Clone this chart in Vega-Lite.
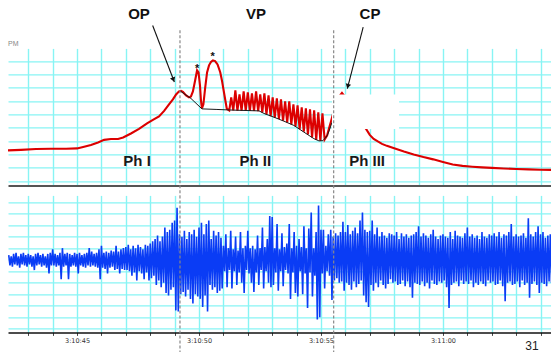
{
  "$schema": "https://vega.github.io/schema/vega-lite/v6.json",
  "background": "white",
  "padding": {"left": 3, "top": 6.4, "right": 0, "bottom": 0},
  "bounds": "flush",
  "spacing": 10,
  "config": {
    "view": {"stroke": null},
    "font": "Liberation Sans",
    "axis": {"gridColor": "#88f4f4", "gridWidth": 1.4, "gridOpacity": 1, "title": null}
  },
  "datasets": {
    "pressure": [
      {"t":42.17,"p":23.0},{"t":42.70,"p":23.4},{"t":43.32,"p":24.1},{"t":43.93,"p":24.3},{"t":44.55,"p":24.3},{"t":45.00,"p":24.5},{"t":45.25,"p":25.6},{"t":45.57,"p":27.1},{"t":45.86,"p":29.0},{"t":46.11,"p":30.9},{"t":46.39,"p":31.5},{"t":46.68,"p":31.6},{"t":46.89,"p":32.7},{"t":47.21,"p":35.7},{"t":47.54,"p":39.1},{"t":47.87,"p":43.2},{"t":48.11,"p":45.8},{"t":48.36,"p":48.5},{"t":48.57,"p":52.6},{"t":48.77,"p":57.5},{"t":48.93,"p":61.2},{"t":49.06,"p":64.9},{"t":49.18,"p":67.2},{"t":49.26,"p":67.6},{"t":49.34,"p":66.8},{"t":49.47,"p":64.2},{"t":49.59,"p":62.7},{"t":49.67,"p":63.4},{"t":49.75,"p":67.2},{"t":49.84,"p":75.4},{"t":49.92,"p":82.9},{"t":49.98,"p":81.4},{"t":50.04,"p":71.7},{"t":50.08,"p":60.4},{"t":50.12,"p":54.5},{"t":50.18,"p":57.5},{"t":50.25,"p":69.4},{"t":50.33,"p":81.4},{"t":50.41,"p":86.7},{"t":50.49,"p":89.3},{"t":50.57,"p":90.4},{"t":50.66,"p":89.9},{"t":50.76,"p":87.4},{"t":50.87,"p":81.6},{"t":50.94,"p":75.4},{"t":51.01,"p":67.9},{"t":51.08,"p":60.4},{"t":51.14,"p":54.2},{"t":51.24,"p":53.0},
      {"t":51.32,"p":62.7},{"t":51.405,"p":53.0},{"t":51.49,"p":67.9},{"t":51.575,"p":52.8},{"t":51.66,"p":64.9},{"t":51.745,"p":52.7},{"t":51.83,"p":67.2},{"t":51.915,"p":52.7},{"t":52.00,"p":66.4},{"t":52.085,"p":52.6},{"t":52.17,"p":65.7},{"t":52.255,"p":52.6},{"t":52.34,"p":67.2},{"t":52.425,"p":52.5},{"t":52.51,"p":64.9},{"t":52.595,"p":51.5},{"t":52.68,"p":65.7},{"t":52.765,"p":50.0},{"t":52.85,"p":64.2},{"t":52.935,"p":48.7},{"t":53.02,"p":62.7},{"t":53.105,"p":47.6},{"t":53.19,"p":61.9},{"t":53.275,"p":46.6},{"t":53.36,"p":61.2},{"t":53.445,"p":45.3},{"t":53.53,"p":59.7},{"t":53.615,"p":44.0},{"t":53.70,"p":59.7},{"t":53.785,"p":42.5},{"t":53.87,"p":57.5},{"t":53.955,"p":41.0},{"t":54.04,"p":56.7},{"t":54.125,"p":39.0},{"t":54.21,"p":55.2},{"t":54.295,"p":37.0},{"t":54.38,"p":54.5},{"t":54.465,"p":35.0},{"t":54.55,"p":53.7},{"t":54.635,"p":32.7},{"t":54.72,"p":53.0},{"t":54.805,"p":30.9},{"t":54.89,"p":51.5},{"t":54.975,"p":30.1},{"t":55.06,"p":50.7},{"t":55.15,"p":31.2},{"t":55.25,"p":34.2},{"t":55.33,"p":39.5},{"t":55.41,"p":44.7},{"t":55.53,"p":53.0},{"t":55.65,"p":60.4},{"t":55.78,"p":64.2},{"t":55.86,"p":66.0},{"t":55.94,"p":64.2},{"t":56.10,"p":59.7},{"t":56.30,"p":54.5},{"t":56.50,"p":48.5},{"t":56.70,"p":42.5},{"t":56.86,"p":38.7},{"t":57.00,"p":34.6},{"t":57.16,"p":31.6},{"t":57.33,"p":29.7},{"t":57.50,"p":27.9},{"t":57.70,"p":26.4},{"t":58.00,"p":24.6},{"t":58.40,"p":22.2},{"t":58.80,"p":20.0},{"t":59.20,"p":18.0},{"t":59.60,"p":16.3},{"t":60.00,"p":14.4},{"t":60.40,"p":12.5},{"t":60.80,"p":11.4},{"t":61.20,"p":10.8},{"t":61.60,"p":10.3},{"t":62.00,"p":9.9},{"t":62.50,"p":9.5},{"t":63.00,"p":9.1},{"t":63.50,"p":8.8},{"t":64.00,"p":8.5},{"t":64.47,"p":8.4}
    ],
    "baseline": [
      {"t":49.22,"p":67.6},{"t":49.67,"p":61.9},{"t":50.12,"p":54.1},{"t":50.70,"p":53.7},{"t":51.23,"p":53.3},{"t":51.72,"p":53.0},{"t":52.46,"p":52.6},{"t":52.66,"p":50.7},{"t":53.07,"p":47.9},{"t":53.48,"p":44.9},{"t":53.89,"p":41.7},{"t":54.30,"p":36.7},{"t":54.71,"p":31.8},{"t":54.92,"p":30.1},{"t":55.08,"p":30.3},{"t":55.25,"p":33.9},{"t":55.37,"p":39.5},{"t":55.45,"p":44.0}
    ],
    "mask": [{"t":55.45,"t2":58.2,"p":64.9,"p2":39.1}],
    "dashTop": [{"t":49.22,"p":112.9,"p2":-10.7},{"t":55.52,"p":112.9,"p2":-10.7}],
    "arrows": [{"t":48.10,"p":116.6,"t2":48.99,"p2":74.2},{"t":56.73,"p":115.4,"t2":56.08,"p2":69.2}],
    "headOP": [{"t":48.95,"p":76.0}],
    "headCP": [{"t":56.10,"p":71.0}],
    "phases": [{"t":47.54,"p":121.6,"label":"OP"},{"t":52.34,"p":121.6,"label":"VP"},{"t":57.01,"p":121.6,"label":"CP"}],
    "phLabels": [{"t":47.46,"p":11.2,"label":"Ph I"},{"t":52.31,"p":11.2,"label":"Ph II"},{"t":56.89,"p":11.0,"label":"Ph III"}],
    "stars": [{"t":49.92,"p":81.8,"label":"*"},{"t":50.56,"p":90.4,"label":"*"}],
    "unit": [{"t":42.17,"p":100.9,"label":"PM"}],
    "dashBottom": [{"t":49.22,"e":55.8,"e2":-80.5},{"t":55.52,"e":55.8,"e2":-80.5}],
    "page": [{"t":63.65,"e":-78.7,"label":"31"}],
    "emg": [
      {"t":42.2,"e":4},{"t":42.25,"e":-5},{"t":42.3,"e":3},{"t":42.35,"e":-6},{"t":42.4,"e":5},{"t":42.45,"e":-4},{"t":42.5,"e":6},{"t":42.55,"e":-5},{"t":42.6,"e":3},{"t":42.65,"e":-7},{"t":42.7,"e":5},{"t":42.75,"e":-4},{"t":42.8,"e":6},{"t":42.85,"e":-5},{"t":42.9,"e":4},{"t":42.95,"e":-6},
      {"t":43.0,"e":5},{"t":43.05,"e":-4},{"t":43.1,"e":4},{"t":43.15,"e":-6},{"t":43.2,"e":3},{"t":43.25,"e":-9},{"t":43.3,"e":5},{"t":43.35,"e":-5},{"t":43.4,"e":6},{"t":43.45,"e":-4},{"t":43.5,"e":4},{"t":43.55,"e":-6},{"t":43.6,"e":5},{"t":43.65,"e":-5},{"t":43.7,"e":3},{"t":43.75,"e":-7},{"t":43.8,"e":5},{"t":43.85,"e":-12},{"t":43.9,"e":6},{"t":43.95,"e":-5},
      {"t":44.0,"e":9},{"t":44.05,"e":-5},{"t":44.1,"e":5},{"t":44.15,"e":-6},{"t":44.2,"e":4},{"t":44.25,"e":-5},{"t":44.3,"e":6},{"t":44.35,"e":-17},{"t":44.4,"e":10},{"t":44.45,"e":-6},{"t":44.5,"e":5},{"t":44.55,"e":-5},{"t":44.6,"e":6},{"t":44.65,"e":-17},{"t":44.7,"e":5},{"t":44.75,"e":-6},{"t":44.8,"e":4},{"t":44.85,"e":-5},{"t":44.9,"e":6},{"t":44.95,"e":-6},
      {"t":45.0,"e":5},{"t":45.05,"e":-12},{"t":45.1,"e":6},{"t":45.15,"e":-5},{"t":45.2,"e":4},{"t":45.25,"e":-6},{"t":45.3,"e":5},{"t":45.35,"e":-7},{"t":45.4,"e":6},{"t":45.45,"e":-5},{"t":45.5,"e":10},{"t":45.55,"e":-6},{"t":45.6,"e":7},{"t":45.65,"e":-5},{"t":45.7,"e":5},{"t":45.75,"e":-6},{"t":45.8,"e":6},{"t":45.85,"e":-7},{"t":45.9,"e":9},{"t":45.95,"e":-17},
      {"t":46.0,"e":12},{"t":46.05,"e":-7},{"t":46.1,"e":6},{"t":46.15,"e":-8},{"t":46.2,"e":7},{"t":46.25,"e":-12},{"t":46.3,"e":6},{"t":46.35,"e":-7},{"t":46.4,"e":8},{"t":46.45,"e":-6},{"t":46.5,"e":7},{"t":46.55,"e":-9},{"t":46.6,"e":12},{"t":46.65,"e":-8},{"t":46.7,"e":7},{"t":46.75,"e":-12},{"t":46.8,"e":9},{"t":46.85,"e":-8},{"t":46.9,"e":10},{"t":46.95,"e":-9},
      {"t":47.0,"e":11},{"t":47.05,"e":-9},{"t":47.1,"e":13},{"t":47.15,"e":-10},{"t":47.2,"e":9},{"t":47.25,"e":-14},{"t":47.3,"e":12},{"t":47.35,"e":-11},{"t":47.4,"e":10},{"t":47.45,"e":-18},{"t":47.5,"e":13},{"t":47.55,"e":-10},{"t":47.6,"e":11},{"t":47.65,"e":-12},{"t":47.7,"e":9},{"t":47.75,"e":-17},{"t":47.8,"e":13},{"t":47.85,"e":-11},{"t":47.9,"e":12},{"t":47.95,"e":-18},
      {"t":48.0,"e":14},{"t":48.05,"e":-16},{"t":48.1,"e":16},{"t":48.15,"e":-14},{"t":48.2,"e":18},{"t":48.25,"e":-22},{"t":48.3,"e":21},{"t":48.35,"e":-18},{"t":48.4,"e":16},{"t":48.45,"e":-24},{"t":48.5,"e":20},{"t":48.55,"e":-20},{"t":48.6,"e":28},{"t":48.65,"e":-29},{"t":48.7,"e":24},{"t":48.75,"e":-31},{"t":48.8,"e":26},{"t":48.85,"e":-26},{"t":48.9,"e":32},{"t":48.95,"e":-24},
      {"t":49.0,"e":34},{"t":49.05,"e":-44},{"t":49.1,"e":45},{"t":49.15,"e":-45},{"t":49.2,"e":22},{"t":49.25,"e":-30},{"t":49.3,"e":20},{"t":49.35,"e":-28},{"t":49.4,"e":25},{"t":49.45,"e":-32},{"t":49.5,"e":18},{"t":49.55,"e":-26},{"t":49.6,"e":24},{"t":49.65,"e":-34},{"t":49.7,"e":22},{"t":49.75,"e":-38},{"t":49.8,"e":26},{"t":49.85,"e":-30},{"t":49.9,"e":20},{"t":49.95,"e":-32},
      {"t":50.0,"e":28},{"t":50.05,"e":-34},{"t":50.1,"e":32},{"t":50.15,"e":-41},{"t":50.2,"e":22},{"t":50.25,"e":-31},{"t":50.3,"e":31},{"t":50.35,"e":-45},{"t":50.4,"e":34},{"t":50.45,"e":-22},{"t":50.5,"e":18},{"t":50.55,"e":-26},{"t":50.6,"e":25},{"t":50.65,"e":-24},{"t":50.7,"e":21},{"t":50.75,"e":-29},{"t":50.8,"e":24},{"t":50.85,"e":-27},{"t":50.9,"e":19},{"t":50.95,"e":-25},
      {"t":51.0,"e":12},{"t":51.05,"e":-10},{"t":51.1,"e":22},{"t":51.15,"e":-24},{"t":51.2,"e":10},{"t":51.25,"e":-9},{"t":51.3,"e":25},{"t":51.35,"e":-25},{"t":51.4,"e":9},{"t":51.45,"e":-10},{"t":51.5,"e":20},{"t":51.55,"e":-22},{"t":51.6,"e":8},{"t":51.65,"e":-11},{"t":51.7,"e":24},{"t":51.75,"e":-20},{"t":51.8,"e":10},{"t":51.85,"e":-29},{"t":51.9,"e":12},{"t":51.95,"e":-9},
      {"t":52.0,"e":25},{"t":52.05,"e":-12},{"t":52.1,"e":10},{"t":52.15,"e":-20},{"t":52.2,"e":12},{"t":52.25,"e":-28},{"t":52.3,"e":9},{"t":52.35,"e":-11},{"t":52.4,"e":21},{"t":52.45,"e":-22},{"t":52.5,"e":10},{"t":52.55,"e":-9},{"t":52.6,"e":28},{"t":52.65,"e":-25},{"t":52.7,"e":11},{"t":52.75,"e":-10},{"t":52.8,"e":18},{"t":52.85,"e":-20},{"t":52.9,"e":38},{"t":52.95,"e":-24},
      {"t":53.0,"e":37},{"t":53.05,"e":-22},{"t":53.1,"e":10},{"t":53.15,"e":-11},{"t":53.2,"e":31},{"t":53.25,"e":-27},{"t":53.3,"e":9},{"t":53.35,"e":-10},{"t":53.4,"e":23},{"t":53.45,"e":-23},{"t":53.5,"e":11},{"t":53.55,"e":-9},{"t":53.6,"e":14},{"t":53.65,"e":-12},{"t":53.7,"e":31},{"t":53.75,"e":-34},{"t":53.8,"e":10},{"t":53.85,"e":-11},{"t":53.9,"e":24},{"t":53.95,"e":-29},
      {"t":54.0,"e":12},{"t":54.05,"e":-32},{"t":54.1,"e":18},{"t":54.15,"e":-10},{"t":54.2,"e":11},{"t":54.25,"e":-30},{"t":54.3,"e":29},{"t":54.35,"e":-12},{"t":54.4,"e":10},{"t":54.45,"e":-42},{"t":54.5,"e":27},{"t":54.55,"e":-11},{"t":54.6,"e":41},{"t":54.65,"e":-32},{"t":54.7,"e":10},{"t":54.75,"e":-14},{"t":54.8,"e":24},{"t":54.85,"e":-52},{"t":54.9,"e":47},{"t":54.95,"e":-50},
      {"t":55.0,"e":26},{"t":55.05,"e":-12},{"t":55.1,"e":26},{"t":55.15,"e":-25},{"t":55.2,"e":12},{"t":55.25,"e":-10},{"t":55.3,"e":22},{"t":55.35,"e":-14},{"t":55.4,"e":26},{"t":55.45,"e":-35},{"t":55.5,"e":20},{"t":55.55,"e":-18},{"t":55.6,"e":23},{"t":55.65,"e":-16},{"t":55.7,"e":21},{"t":55.75,"e":-20},{"t":55.8,"e":24},{"t":55.85,"e":-19},{"t":55.9,"e":33},{"t":55.95,"e":-27},
      {"t":56.0,"e":24},{"t":56.05,"e":-20},{"t":56.1,"e":30},{"t":56.15,"e":-22},{"t":56.2,"e":22},{"t":56.25,"e":-26},{"t":56.3,"e":25},{"t":56.35,"e":-19},{"t":56.4,"e":28},{"t":56.45,"e":-24},{"t":56.5,"e":23},{"t":56.55,"e":-21},{"t":56.6,"e":34},{"t":56.65,"e":-18},{"t":56.7,"e":41},{"t":56.75,"e":-31},{"t":56.8,"e":26},{"t":56.85,"e":-37},{"t":56.9,"e":24},{"t":56.95,"e":-41},
      {"t":57.0,"e":25},{"t":57.05,"e":-22},{"t":57.1,"e":34},{"t":57.15,"e":-27},{"t":57.2,"e":22},{"t":57.25,"e":-20},{"t":57.3,"e":28},{"t":57.35,"e":-24},{"t":57.4,"e":20},{"t":57.45,"e":-18},{"t":57.5,"e":24},{"t":57.55,"e":-22},{"t":57.6,"e":21},{"t":57.65,"e":-25},{"t":57.7,"e":19},{"t":57.75,"e":-21},{"t":57.8,"e":23},{"t":57.85,"e":-17},{"t":57.9,"e":22},{"t":57.95,"e":-20},
      {"t":58.0,"e":21},{"t":58.05,"e":-19},{"t":58.1,"e":24},{"t":58.15,"e":-22},{"t":58.2,"e":18},{"t":58.25,"e":-21},{"t":58.3,"e":23},{"t":58.35,"e":-18},{"t":58.4,"e":20},{"t":58.45,"e":-23},{"t":58.5,"e":22},{"t":58.55,"e":-19},{"t":58.6,"e":19},{"t":58.65,"e":-24},{"t":58.7,"e":21},{"t":58.75,"e":-33},{"t":58.8,"e":22},{"t":58.85,"e":-20},{"t":58.9,"e":24},{"t":58.95,"e":-21},
      {"t":59.0,"e":29},{"t":59.05,"e":-22},{"t":59.1,"e":20},{"t":59.15,"e":-19},{"t":59.2,"e":23},{"t":59.25,"e":-23},{"t":59.3,"e":21},{"t":59.35,"e":-20},{"t":59.4,"e":19},{"t":59.45,"e":-25},{"t":59.5,"e":22},{"t":59.55,"e":-18},{"t":59.6,"e":26},{"t":59.65,"e":-21},{"t":59.7,"e":20},{"t":59.75,"e":-22},{"t":59.8,"e":18},{"t":59.85,"e":-19},{"t":59.9,"e":21},{"t":59.95,"e":-20},
      {"t":60.0,"e":22},{"t":60.05,"e":-18},{"t":60.1,"e":20},{"t":60.15,"e":-24},{"t":60.2,"e":19},{"t":60.25,"e":-42},{"t":60.3,"e":24},{"t":60.35,"e":-22},{"t":60.4,"e":18},{"t":60.45,"e":-20},{"t":60.5,"e":25},{"t":60.55,"e":-19},{"t":60.6,"e":21},{"t":60.65,"e":-23},{"t":60.7,"e":20},{"t":60.75,"e":-18},{"t":60.8,"e":19},{"t":60.85,"e":-21},{"t":60.9,"e":23},{"t":60.95,"e":-19},
      {"t":61.0,"e":28},{"t":61.05,"e":-21},{"t":61.1,"e":20},{"t":61.15,"e":-18},{"t":61.2,"e":22},{"t":61.25,"e":-24},{"t":61.3,"e":19},{"t":61.35,"e":-20},{"t":61.4,"e":21},{"t":61.45,"e":-22},{"t":61.5,"e":18},{"t":61.55,"e":-19},{"t":61.6,"e":24},{"t":61.65,"e":-21},{"t":61.7,"e":20},{"t":61.75,"e":-23},{"t":61.8,"e":19},{"t":61.85,"e":-18},{"t":61.9,"e":22},{"t":61.95,"e":-20},
      {"t":62.0,"e":21},{"t":62.05,"e":-19},{"t":62.1,"e":23},{"t":62.15,"e":-22},{"t":62.2,"e":20},{"t":62.25,"e":-21},{"t":62.3,"e":24},{"t":62.35,"e":-18},{"t":62.4,"e":19},{"t":62.45,"e":-23},{"t":62.5,"e":22},{"t":62.55,"e":-36},{"t":62.6,"e":21},{"t":62.65,"e":-20},{"t":62.7,"e":24},{"t":62.75,"e":-19},{"t":62.8,"e":31},{"t":62.85,"e":-22},{"t":62.9,"e":20},{"t":62.95,"e":-21},
      {"t":63.0,"e":22},{"t":63.05,"e":-19},{"t":63.1,"e":20},{"t":63.15,"e":-24},{"t":63.2,"e":21},{"t":63.25,"e":-18},{"t":63.3,"e":23},{"t":63.35,"e":-22},{"t":63.4,"e":19},{"t":63.45,"e":-20},{"t":63.5,"e":36},{"t":63.55,"e":-33},{"t":63.6,"e":22},{"t":63.65,"e":-21},{"t":63.7,"e":20},{"t":63.75,"e":-19},{"t":63.8,"e":24},{"t":63.85,"e":-22},{"t":63.9,"e":29},{"t":63.95,"e":-29},
      {"t":64.0,"e":22},{"t":64.05,"e":-20},{"t":64.1,"e":24},{"t":64.15,"e":-21},{"t":64.2,"e":19},{"t":64.25,"e":-23},{"t":64.3,"e":21},{"t":64.35,"e":-19},{"t":64.4,"e":22},{"t":64.45,"e":-20}
    ]
  },
  "vconcat": [
    {
      "width": 544,
      "height": 137,
      "encoding": {
        "x": {"field": "t", "type": "quantitative", "scale": {"domain": [42.17, 64.47], "nice": false, "zero": false},
              "axis": {"values": [43,44,45,46,47,48,49,50,51,52,53,54,55,56,57,58,59,60,61,62,63,64], "labels": false, "ticks": false, "domain": true, "domainColor": "#555555", "domainWidth": 2, "grid": true, "title": null}},
        "y": {"field": "p", "type": "quantitative", "scale": {"domain": [-3.2, 99.4], "nice": false, "zero": false},
              "axis": {"values": [0,10,20,30,40,50,60,70,80,90], "labels": false, "ticks": false, "domain": false, "grid": true, "title": null}}
      },
      "layer": [
        {"data": {"name": "pressure"}, "mark": {"type": "line", "color": "#dc0000", "strokeWidth": 2.1}},
        {"data": {"name": "baseline"}, "mark": {"type": "line", "color": "#1a1a1a", "strokeWidth": 1}},
        {"data": {"name": "mask"}, "mark": {"type": "rect", "fill": "white"}, "encoding": {"x2": {"field": "t2"}, "y2": {"field": "p2"}}},
        {"data": {"name": "dashTop"}, "mark": {"type": "rule", "color": "#888888", "strokeWidth": 1.2, "strokeDash": [3, 2]}, "encoding": {"y2": {"field": "p2"}}},
        {"data": {"name": "arrows"}, "mark": {"type": "rule", "color": "#111111", "strokeWidth": 1.1}, "encoding": {"x2": {"field": "t2"}, "y2": {"field": "p2"}}},
        {"data": {"name": "headOP"}, "mark": {"type": "point", "shape": "triangle-down", "filled": true, "color": "#111111", "size": 30, "angle": -21, "opacity": 1}},
        {"data": {"name": "headCP"}, "mark": {"type": "point", "shape": "triangle-down", "filled": true, "color": "#111111", "size": 30, "angle": 14.5, "opacity": 1}},
        {"data": {"name": "phases"}, "mark": {"type": "text", "fontSize": 15, "fontWeight": "bold", "color": "#111111", "align": "center", "baseline": "alphabetic"}, "encoding": {"text": {"field": "label"}}},
        {"data": {"name": "phLabels"}, "mark": {"type": "text", "fontSize": 15, "fontWeight": "bold", "color": "#1a1a1a", "align": "center", "baseline": "alphabetic"}, "encoding": {"text": {"field": "label"}}},
        {"data": {"name": "stars"}, "mark": {"type": "text", "fontSize": 11, "fontWeight": "bold", "color": "#111111", "align": "center", "baseline": "alphabetic"}, "encoding": {"text": {"field": "label"}}},
        {"data": {"name": "unit"}, "mark": {"type": "text", "fontSize": 7, "color": "#888888", "align": "left", "baseline": "alphabetic"}, "encoding": {"text": {"field": "label"}}}
      ]
    },
    {
      "width": 544,
      "height": 137,
      "encoding": {
        "x": {"field": "t", "type": "quantitative", "scale": {"domain": [42.17, 64.47], "nice": false, "zero": false},
              "axis": {"values": [43,44,45,46,47,48,49,50,51,52,53,54,55,56,57,58,59,60,61,62,63,64],
                       "labelExpr": "datum.value % 5 === 0 ? (datum.value < 60 ? '3:10:' + datum.value : '3:11:0' + (datum.value - 60)) : ''",
                       "labelFont": "DejaVu Sans", "labelFontSize": 6.5, "labelColor": "#333333", "labelPadding": 2, "labelFlush": false, "labelOverlap": false,
                       "ticks": true, "tickSize": 3, "tickColor": "#444444", "tickWidth": 1,
                       "domain": true, "domainColor": "#111111", "domainWidth": 1.5, "grid": true, "title": null}},
        "y": {"field": "e", "type": "quantitative", "scale": {"domain": [-63.1, 55.8], "nice": false, "zero": false},
              "axis": {"values": [-60,-50,-40,-30,-20,-10,0,10,20,30,40,50], "labels": false, "ticks": false, "domain": false, "grid": true, "title": null}}
      },
      "layer": [
        {"data": {"name": "emg"}, "mark": {"type": "line", "color": "#0a3cf5", "strokeWidth": 1.6}},
        {"data": {"name": "dashBottom"}, "mark": {"type": "rule", "color": "#888888", "strokeWidth": 1.2, "strokeDash": [3, 2]}, "encoding": {"y2": {"field": "e2"}}},
        {"data": {"name": "page"}, "mark": {"type": "text", "fontSize": 12, "color": "#222222", "align": "center", "baseline": "alphabetic"}, "encoding": {"text": {"field": "label"}}}
      ]
    }
  ]
}
